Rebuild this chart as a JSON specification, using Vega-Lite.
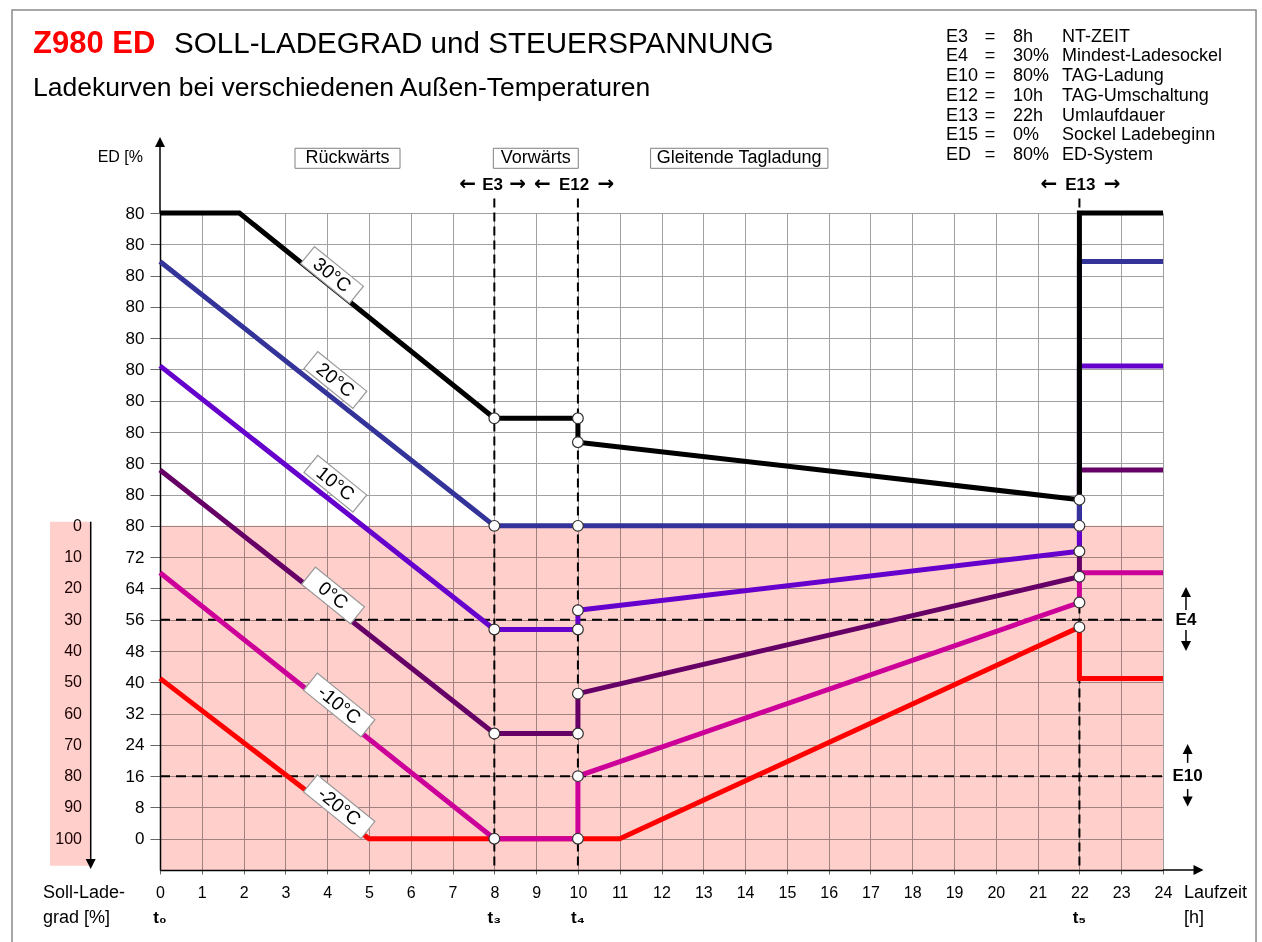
{
  "$schema": "https://vega.github.io/schema/vega-lite/v6.json",
  "width": 1003,
  "height": 657,
  "autosize": {"type": "none"},
  "padding": {"left": 160, "top": 213, "right": 99, "bottom": 72},
  "background": "white",
  "config": {"font": "Liberation Sans", "view": {"stroke": null}},
  "resolve": {"axis": {"x": "independent", "y": "independent"}},
  "datasets": {
    "curves": [
      {"temp": "-20°C", "i": 0, "x": 0, "y": 41},
      {"temp": "-20°C", "i": 1, "x": 5, "y": 0},
      {"temp": "-20°C", "i": 2, "x": 11, "y": 0},
      {"temp": "-20°C", "i": 3, "x": 22, "y": 54.1},
      {"temp": "-20°C", "i": 4, "x": 22, "y": 41},
      {"temp": "-20°C", "i": 5, "x": 24, "y": 41},
      {"temp": "-10°C", "i": 0, "x": 0, "y": 68},
      {"temp": "-10°C", "i": 1, "x": 8, "y": 0},
      {"temp": "-10°C", "i": 2, "x": 10, "y": 0},
      {"temp": "-10°C", "i": 3, "x": 10, "y": 16},
      {"temp": "-10°C", "i": 4, "x": 22, "y": 60.4},
      {"temp": "-10°C", "i": 5, "x": 22, "y": 68},
      {"temp": "-10°C", "i": 6, "x": 24, "y": 68},
      {"temp": "0°C", "i": 0, "x": 0, "y": 94.3},
      {"temp": "0°C", "i": 1, "x": 8, "y": 26.9},
      {"temp": "0°C", "i": 2, "x": 10, "y": 26.9},
      {"temp": "0°C", "i": 3, "x": 10, "y": 37.1},
      {"temp": "0°C", "i": 4, "x": 22, "y": 67},
      {"temp": "0°C", "i": 5, "x": 22, "y": 94.3},
      {"temp": "0°C", "i": 6, "x": 24, "y": 94.3},
      {"temp": "10°C", "i": 0, "x": 0, "y": 120.9},
      {"temp": "10°C", "i": 1, "x": 8, "y": 53.5},
      {"temp": "10°C", "i": 2, "x": 10, "y": 53.5},
      {"temp": "10°C", "i": 3, "x": 10, "y": 58.4},
      {"temp": "10°C", "i": 4, "x": 22, "y": 73.5},
      {"temp": "10°C", "i": 5, "x": 22, "y": 120.9},
      {"temp": "10°C", "i": 6, "x": 24, "y": 120.9},
      {"temp": "20°C", "i": 0, "x": 0, "y": 147.6},
      {"temp": "20°C", "i": 1, "x": 8, "y": 80},
      {"temp": "20°C", "i": 2, "x": 22, "y": 80},
      {"temp": "20°C", "i": 3, "x": 22, "y": 147.6},
      {"temp": "20°C", "i": 4, "x": 24, "y": 147.6},
      {"temp": "30°C", "i": 0, "x": 0, "y": 160},
      {"temp": "30°C", "i": 1, "x": 1.9, "y": 160},
      {"temp": "30°C", "i": 2, "x": 8, "y": 107.5},
      {"temp": "30°C", "i": 3, "x": 10, "y": 107.5},
      {"temp": "30°C", "i": 4, "x": 10, "y": 101.4},
      {"temp": "30°C", "i": 5, "x": 22, "y": 86.7},
      {"temp": "30°C", "i": 6, "x": 22, "y": 160},
      {"temp": "30°C", "i": 7, "x": 24, "y": 160}
    ],
    "nodes": [
      {"x": 8, "y": 107.5}, {"x": 10, "y": 107.5}, {"x": 10, "y": 101.4}, {"x": 22, "y": 86.7},
      {"x": 8, "y": 80}, {"x": 10, "y": 80}, {"x": 22, "y": 80},
      {"x": 8, "y": 53.5}, {"x": 10, "y": 53.5}, {"x": 10, "y": 58.4}, {"x": 22, "y": 73.5},
      {"x": 8, "y": 26.9}, {"x": 10, "y": 26.9}, {"x": 10, "y": 37.1}, {"x": 22, "y": 67},
      {"x": 8, "y": 0}, {"x": 10, "y": 0}, {"x": 10, "y": 16}, {"x": 22, "y": 60.4},
      {"x": 22, "y": 54.1}
    ],
    "templabels": [
      {"t": "30°C", "x": 4.116, "y": 144.15},
      {"t": "20°C", "x": 4.196, "y": 117.3},
      {"t": "10°C", "x": 4.196, "y": 90.78},
      {"t": "0°C", "x": 4.14, "y": 62.19},
      {"t": "-10°C", "x": 4.288, "y": 34.19},
      {"t": "-20°C", "x": 4.288, "y": 8.19}
    ],
    "sections": [
      {"t": "Rückwärts", "x": 4.487, "x1": 3.23, "x2": 5.743},
      {"t": "Vorwärts", "x": 8.993, "x1": 7.976, "x2": 10.009},
      {"t": "Gleitende Tagladung", "x": 13.86, "x1": 11.739, "x2": 15.982}
    ],
    "bold": [
      {"t": "E3", "x": 7.96, "y": 167.16},
      {"t": "E12", "x": 9.91, "y": 167.16},
      {"t": "E13", "x": 22.02, "y": 167.16},
      {"t": "E4", "x": 24.55, "y": 56},
      {"t": "E10", "x": 24.59, "y": 16},
      {"t": "t₀", "x": 0, "y": -20.28},
      {"t": "t₃", "x": 8, "y": -20.28},
      {"t": "t₄", "x": 10, "y": -20.28},
      {"t": "t₅", "x": 22, "y": -20.28}
    ],
    "harrows": [
      {"t": "←", "x": 7.36},
      {"t": "→", "x": 8.56},
      {"t": "←", "x": 9.15},
      {"t": "→", "x": 10.67},
      {"t": "←", "x": 21.27},
      {"t": "→", "x": 22.78}
    ],
    "plain": [
      {"t": "Soll-Lade-", "x": -2.8, "y": -13.88},
      {"t": "grad [%]", "x": -2.8, "y": -20.28},
      {"t": "Laufzeit", "x": 24.5, "y": -13.88},
      {"t": "[h]", "x": 24.5, "y": -20.28}
    ],
    "soll": [
      {"s": "0", "ed": 80}, {"s": "10", "ed": 72}, {"s": "20", "ed": 64}, {"s": "30", "ed": 56},
      {"s": "40", "ed": 48}, {"s": "50", "ed": 40}, {"s": "60", "ed": 32}, {"s": "70", "ed": 24},
      {"s": "80", "ed": 16}, {"s": "90", "ed": 8}, {"s": "100", "ed": 0}
    ],
    "params": [
      {"k": "E3", "v": "8h", "d": "NT-ZEIT", "y": 205.08},
      {"k": "E4", "v": "30%", "d": "Mindest-Ladesockel", "y": 200.04},
      {"k": "E10", "v": "80%", "d": "TAG-Ladung", "y": 195.01},
      {"k": "E12", "v": "10h", "d": "TAG-Umschaltung", "y": 189.97},
      {"k": "E13", "v": "22h", "d": "Umlaufdauer", "y": 184.93},
      {"k": "E15", "v": "0%", "d": "Sockel Ladebeginn", "y": 179.9},
      {"k": "ED", "v": "80%", "d": "ED-System", "y": 174.86}
    ],
    "shafts": [
      {"x": 0, "y1": 160, "y2": 177},
      {"x": 24.55, "y1": 58.5, "y2": 63},
      {"x": 24.55, "y1": 53.4, "y2": 49.5},
      {"x": 24.59, "y1": 19.4, "y2": 23},
      {"x": 24.59, "y1": 12.7, "y2": 9},
      {"x": -1.658, "y1": 81.06, "y2": -6}
    ],
    "heads": [
      {"x": 0, "y": 178.16, "dir": "up"},
      {"x": 24.85, "y": -8, "dir": "right"},
      {"x": 24.55, "y": 63.09, "dir": "up"},
      {"x": 24.55, "y": 49.28, "dir": "down"},
      {"x": 24.59, "y": 22.94, "dir": "up"},
      {"x": 24.59, "y": 9.5, "dir": "down"},
      {"x": -1.658, "y": -6.47, "dir": "down"}
    ]
  },
  "layer": [
    {
      "data": {"values": [{"x1": 0, "x2": 24, "y1": -8, "y2": 80}]},
      "mark": {"type": "rect", "color": "#FFCFCC", "blend": "multiply"},
      "encoding": {
        "x": {"field": "x1", "type": "quantitative", "title": null, "scale": {"domain": [0, 24], "nice": false, "zero": false},
          "axis": {"orient": "bottom", "values": [0,1,2,3,4,5,6,7,8,9,10,11,12,13,14,15,16,17,18,19,20,21,22,23,24], "title": null, "grid": true, "gridColor": "#a0a0a0", "gridWidth": 1, "domainColor": "#000", "domainWidth": 1.5, "tickColor": "#666", "tickSize": 4, "labelFontSize": 16, "labelColor": "#000", "labelPadding": 10, "labelAngle": 0, "labelFlush": false, "labelOverlap": false, "format": "d"}},
        "x2": {"field": "x2"},
        "y": {"field": "y1", "type": "quantitative", "title": null, "scale": {"domain": [-8, 160], "nice": false, "zero": false},
          "axis": {"orient": "left", "values": [0,8,16,24,32,40,48,56,64,72,80,88,96,104,112,120,128,136,144,152,160], "title": null, "grid": true, "gridColor": "#a0a0a0", "gridWidth": 1, "domainColor": "#000", "domainWidth": 1.5, "tickColor": "#666", "tickSize": 10, "labelFontSize": 17, "labelColor": "#000", "labelPadding": 6, "labelFlush": false, "labelOverlap": false, "format": "d", "labelExpr": "datum.value > 80 ? '80' : datum.label"}},
        "y2": {"field": "y2"}
      }
    },
    {
      "data": {"values": [{"x1": -2.632, "x2": -1.658, "y1": -6.9, "y2": 81.06}]},
      "mark": {"type": "rect", "color": "#FFCFCC"},
      "encoding": {
        "x": {"field": "x1", "type": "quantitative", "axis": null, "scale": {"domain": [0, 24], "nice": false, "zero": false}},
        "x2": {"field": "x2"},
        "y": {"field": "y1", "type": "quantitative", "axis": null, "scale": {"domain": [-8, 160], "nice": false, "zero": false}},
        "y2": {"field": "y2"}
      }
    },
    {
      "data": {"values": [{"x1": -3.5415, "x2": 26.226, "y1": -30, "y2": 211.91}]},
      "mark": {"type": "rect", "fill": "transparent", "stroke": "#8a8a8a", "strokeWidth": 1.5},
      "encoding": {
        "x": {"field": "x1", "type": "quantitative", "axis": null, "scale": {"domain": [0, 24], "nice": false, "zero": false}},
        "x2": {"field": "x2"},
        "y": {"field": "y1", "type": "quantitative", "axis": null, "scale": {"domain": [-8, 160], "nice": false, "zero": false}},
        "y2": {"field": "y2"}
      }
    },
    {
      "data": {"values": [{"x": 8}, {"x": 10}, {"x": 22}]},
      "mark": {"type": "rule", "color": "#000", "strokeWidth": 2, "strokeDash": [9, 5]},
      "encoding": {
        "x": {"field": "x", "type": "quantitative", "axis": null, "scale": {"domain": [0, 24], "nice": false, "zero": false}},
        "y": {"datum": 163.7, "type": "quantitative", "axis": null, "scale": {"domain": [-8, 160], "nice": false, "zero": false}},
        "y2": {"datum": -8}
      }
    },
    {
      "data": {"values": [{"y": 56}, {"y": 16}]},
      "mark": {"type": "rule", "color": "#000", "strokeWidth": 2, "strokeDash": [10, 6]},
      "encoding": {
        "y": {"field": "y", "type": "quantitative", "axis": null, "scale": {"domain": [-8, 160], "nice": false, "zero": false}},
        "x": {"datum": 0, "type": "quantitative", "axis": null, "scale": {"domain": [0, 24], "nice": false, "zero": false}},
        "x2": {"datum": 24}
      }
    },
    {
      "data": {"name": "curves"},
      "mark": {"type": "line", "strokeWidth": 5, "strokeCap": "butt", "strokeJoin": "miter"},
      "encoding": {
        "x": {"field": "x", "type": "quantitative", "axis": null, "scale": {"domain": [0, 24], "nice": false, "zero": false}},
        "y": {"field": "y", "type": "quantitative", "axis": null, "scale": {"domain": [-8, 160], "nice": false, "zero": false}},
        "color": {"field": "temp", "type": "nominal", "legend": null,
          "scale": {"domain": ["30°C", "20°C", "10°C", "0°C", "-10°C", "-20°C"], "range": ["#000000", "#333399", "#6600CC", "#660066", "#CC0099", "#FF0000"]}},
        "order": {"field": "i", "type": "quantitative"}
      }
    },
    {
      "data": {"name": "nodes"},
      "mark": {"type": "point", "filled": true, "fill": "white", "stroke": "#333333", "strokeWidth": 1.2, "size": 115, "opacity": 1},
      "encoding": {
        "x": {"field": "x", "type": "quantitative", "axis": null, "scale": {"domain": [0, 24], "nice": false, "zero": false}},
        "y": {"field": "y", "type": "quantitative", "axis": null, "scale": {"domain": [-8, 160], "nice": false, "zero": false}}
      }
    },
    {
      "data": {"name": "templabels"},
      "transform": [{"filter": "length(datum.t) <= 4"}],
      "mark": {"type": "point", "shape": "M-1,-0.349H1V0.349H-1Z", "size": 3969, "angle": 39, "filled": true, "fill": "white", "stroke": "#9a9a9a", "strokeWidth": 1.2, "opacity": 1},
      "encoding": {
        "x": {"field": "x", "type": "quantitative", "axis": null, "scale": {"domain": [0, 24], "nice": false, "zero": false}},
        "y": {"field": "y", "type": "quantitative", "axis": null, "scale": {"domain": [-8, 160], "nice": false, "zero": false}}
      }
    },
    {
      "data": {"name": "templabels"},
      "transform": [{"filter": "length(datum.t) > 4"}],
      "mark": {"type": "point", "shape": "M-1,-0.297H1V0.297H-1Z", "size": 5476, "angle": 39, "filled": true, "fill": "white", "stroke": "#9a9a9a", "strokeWidth": 1.2, "opacity": 1},
      "encoding": {
        "x": {"field": "x", "type": "quantitative", "axis": null, "scale": {"domain": [0, 24], "nice": false, "zero": false}},
        "y": {"field": "y", "type": "quantitative", "axis": null, "scale": {"domain": [-8, 160], "nice": false, "zero": false}}
      }
    },
    {
      "data": {"name": "templabels"},
      "mark": {"type": "text", "angle": 39, "fontSize": 19, "color": "#000", "align": "center", "baseline": "middle"},
      "encoding": {
        "x": {"field": "x", "type": "quantitative", "axis": null, "scale": {"domain": [0, 24], "nice": false, "zero": false}},
        "y": {"field": "y", "type": "quantitative", "axis": null, "scale": {"domain": [-8, 160], "nice": false, "zero": false}},
        "text": {"field": "t"}
      }
    },
    {
      "data": {"name": "sections"},
      "mark": {"type": "rect", "fill": "white", "stroke": "#808080", "strokeWidth": 1},
      "encoding": {
        "x": {"field": "x1", "type": "quantitative", "axis": null, "scale": {"domain": [0, 24], "nice": false, "zero": false}},
        "x2": {"field": "x2"},
        "y": {"datum": 176.55, "type": "quantitative", "axis": null, "scale": {"domain": [-8, 160], "nice": false, "zero": false}},
        "y2": {"datum": 171.43}
      }
    },
    {
      "data": {"name": "sections"},
      "mark": {"type": "text", "fontSize": 18, "color": "#000", "align": "center", "baseline": "middle"},
      "encoding": {
        "x": {"field": "x", "type": "quantitative", "axis": null, "scale": {"domain": [0, 24], "nice": false, "zero": false}},
        "y": {"datum": 173.99, "type": "quantitative", "axis": null, "scale": {"domain": [-8, 160], "nice": false, "zero": false}},
        "text": {"field": "t"}
      }
    },
    {
      "data": {"name": "bold"},
      "mark": {"type": "text", "fontSize": 17, "fontWeight": "bold", "color": "#000", "align": "center", "baseline": "middle"},
      "encoding": {
        "x": {"field": "x", "type": "quantitative", "axis": null, "scale": {"domain": [0, 24], "nice": false, "zero": false}},
        "y": {"field": "y", "type": "quantitative", "axis": null, "scale": {"domain": [-8, 160], "nice": false, "zero": false}},
        "text": {"field": "t"}
      }
    },
    {
      "data": {"name": "harrows"},
      "mark": {"type": "text", "font": "DejaVu Sans", "fontSize": 20, "fontWeight": "bold", "color": "#000", "align": "center", "baseline": "middle"},
      "encoding": {
        "x": {"field": "x", "type": "quantitative", "axis": null, "scale": {"domain": [0, 24], "nice": false, "zero": false}},
        "y": {"datum": 167.3, "type": "quantitative", "axis": null, "scale": {"domain": [-8, 160], "nice": false, "zero": false}},
        "text": {"field": "t"}
      }
    },
    {
      "data": {"name": "plain"},
      "mark": {"type": "text", "fontSize": 18, "color": "#000", "align": "left", "baseline": "middle"},
      "encoding": {
        "x": {"field": "x", "type": "quantitative", "axis": null, "scale": {"domain": [0, 24], "nice": false, "zero": false}},
        "y": {"field": "y", "type": "quantitative", "axis": null, "scale": {"domain": [-8, 160], "nice": false, "zero": false}},
        "text": {"field": "t"}
      }
    },
    {
      "data": {"values": [{"t": "ED [%", "x": -0.407, "y": 174.4}]},
      "mark": {"type": "text", "fontSize": 16, "color": "#000", "align": "right", "baseline": "middle"},
      "encoding": {
        "x": {"field": "x", "type": "quantitative", "axis": null, "scale": {"domain": [0, 24], "nice": false, "zero": false}},
        "y": {"field": "y", "type": "quantitative", "axis": null, "scale": {"domain": [-8, 160], "nice": false, "zero": false}},
        "text": {"field": "t"}
      }
    },
    {
      "data": {"name": "soll"},
      "mark": {"type": "text", "fontSize": 16, "color": "#1a0000", "align": "right", "baseline": "middle"},
      "encoding": {
        "x": {"datum": -1.866, "type": "quantitative", "axis": null, "scale": {"domain": [0, 24], "nice": false, "zero": false}},
        "y": {"field": "ed", "type": "quantitative", "axis": null, "scale": {"domain": [-8, 160], "nice": false, "zero": false}},
        "text": {"field": "s"}
      }
    },
    {
      "data": {"name": "params"},
      "mark": {"type": "text", "fontSize": 18, "color": "#000", "align": "left", "baseline": "middle"},
      "encoding": {
        "x": {"datum": 18.81, "type": "quantitative", "axis": null, "scale": {"domain": [0, 24], "nice": false, "zero": false}},
        "y": {"field": "y", "type": "quantitative", "axis": null, "scale": {"domain": [-8, 160], "nice": false, "zero": false}},
        "text": {"field": "k"}
      }
    },
    {
      "data": {"name": "params"},
      "mark": {"type": "text", "fontSize": 18, "color": "#000", "align": "center", "baseline": "middle"},
      "encoding": {
        "x": {"datum": 19.86, "type": "quantitative", "axis": null, "scale": {"domain": [0, 24], "nice": false, "zero": false}},
        "y": {"field": "y", "type": "quantitative", "axis": null, "scale": {"domain": [-8, 160], "nice": false, "zero": false}},
        "text": {"value": "="}
      }
    },
    {
      "data": {"name": "params"},
      "mark": {"type": "text", "fontSize": 18, "color": "#000", "align": "left", "baseline": "middle"},
      "encoding": {
        "x": {"datum": 20.411, "type": "quantitative", "axis": null, "scale": {"domain": [0, 24], "nice": false, "zero": false}},
        "y": {"field": "y", "type": "quantitative", "axis": null, "scale": {"domain": [-8, 160], "nice": false, "zero": false}},
        "text": {"field": "v"}
      }
    },
    {
      "data": {"name": "params"},
      "mark": {"type": "text", "fontSize": 18, "color": "#000", "align": "left", "baseline": "middle"},
      "encoding": {
        "x": {"datum": 21.584, "type": "quantitative", "axis": null, "scale": {"domain": [0, 24], "nice": false, "zero": false}},
        "y": {"field": "y", "type": "quantitative", "axis": null, "scale": {"domain": [-8, 160], "nice": false, "zero": false}},
        "text": {"field": "d"}
      }
    },
    {
      "data": {"values": [{"t": "Z980 ED", "x": -3.039, "y": 203.21}]},
      "mark": {"type": "text", "fontSize": 31, "fontWeight": "bold", "color": "#FF0000", "align": "left", "baseline": "middle"},
      "encoding": {
        "x": {"field": "x", "type": "quantitative", "axis": null, "scale": {"domain": [0, 24], "nice": false, "zero": false}},
        "y": {"field": "y", "type": "quantitative", "axis": null, "scale": {"domain": [-8, 160], "nice": false, "zero": false}},
        "text": {"field": "t"}
      }
    },
    {
      "data": {"values": [{"t": "SOLL-LADEGRAD und STEUERSPANNUNG", "x": 0.335, "y": 203.21}]},
      "mark": {"type": "text", "fontSize": 29.6, "color": "#000", "align": "left", "baseline": "middle"},
      "encoding": {
        "x": {"field": "x", "type": "quantitative", "axis": null, "scale": {"domain": [0, 24], "nice": false, "zero": false}},
        "y": {"field": "y", "type": "quantitative", "axis": null, "scale": {"domain": [-8, 160], "nice": false, "zero": false}},
        "text": {"field": "t"}
      }
    },
    {
      "data": {"values": [{"t": "Ladekurven bei verschiedenen Außen-Temperaturen", "x": -3.039, "y": 191.96}]},
      "mark": {"type": "text", "fontSize": 26.5, "color": "#000", "align": "left", "baseline": "middle"},
      "encoding": {
        "x": {"field": "x", "type": "quantitative", "axis": null, "scale": {"domain": [0, 24], "nice": false, "zero": false}},
        "y": {"field": "y", "type": "quantitative", "axis": null, "scale": {"domain": [-8, 160], "nice": false, "zero": false}},
        "text": {"field": "t"}
      }
    },
    {
      "data": {"name": "shafts"},
      "mark": {"type": "rule", "color": "#000", "strokeWidth": 1.5},
      "encoding": {
        "x": {"field": "x", "type": "quantitative", "axis": null, "scale": {"domain": [0, 24], "nice": false, "zero": false}},
        "y": {"field": "y1", "type": "quantitative", "axis": null, "scale": {"domain": [-8, 160], "nice": false, "zero": false}},
        "y2": {"field": "y2"}
      }
    },
    {
      "data": {"values": [{"x1": 24, "x2": 24.75, "y": -8}]},
      "mark": {"type": "rule", "color": "#000", "strokeWidth": 1.5},
      "encoding": {
        "x": {"field": "x1", "type": "quantitative", "axis": null, "scale": {"domain": [0, 24], "nice": false, "zero": false}},
        "x2": {"field": "x2"},
        "y": {"field": "y", "type": "quantitative", "axis": null, "scale": {"domain": [-8, 160], "nice": false, "zero": false}}
      }
    },
    {
      "data": {"name": "heads"},
      "mark": {"type": "point", "filled": true, "color": "#000", "size": 100, "opacity": 1},
      "encoding": {
        "x": {"field": "x", "type": "quantitative", "axis": null, "scale": {"domain": [0, 24], "nice": false, "zero": false}},
        "y": {"field": "y", "type": "quantitative", "axis": null, "scale": {"domain": [-8, 160], "nice": false, "zero": false}},
        "shape": {"field": "dir", "type": "nominal", "legend": null,
          "scale": {"domain": ["up", "down", "right"], "range": ["M0,-1L1,1L-1,1Z", "M0,1L1,-1L-1,-1Z", "M1,0L-1,1L-1,-1Z"]}}
      }
    }
  ]
}
